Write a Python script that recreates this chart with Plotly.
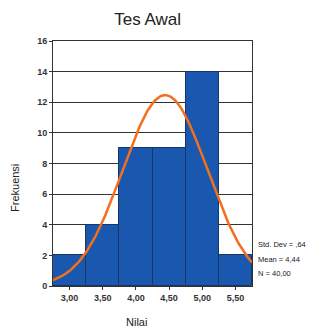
import numpy as np
import plotly.graph_objects as go

# Data
bin_centers = [3.00, 3.50, 4.00, 4.50, 5.00, 5.50]
frequencies = [2, 4, 9, 9, 14, 2]
x_tick_vals = [3.00, 3.50, 4.00, 4.50, 5.00, 5.50]
x_tick_text = ["3,00", "3,50", "4,00", "4,50", "5,00", "5,50"]
y_tick_vals = [0, 2, 4, 6, 8, 10, 12, 14, 16]
stat_mean = 4.44
stat_sd = 0.64
stat_n = 40
bin_width = 0.5
stat_labels = ["Std. Dev = ,64", "Mean = 4,44", "N = 40,00"]

# Normal curve scaled to histogram counts
xs = np.linspace(2.75, 5.75, 200)
ys = stat_n * bin_width / (stat_sd * np.sqrt(2 * np.pi)) * np.exp(-0.5 * ((xs - stat_mean) / stat_sd) ** 2)

fig = go.Figure()
fig.add_trace(go.Bar(
    x=bin_centers, y=frequencies, width=bin_width,
    marker=dict(color="#1a58b0", line=dict(color="#163766", width=1)),
    showlegend=False,
))
fig.add_trace(go.Scatter(
    x=xs, y=ys, mode="lines",
    line=dict(color="#f26f1e", width=2.5),
    showlegend=False,
))

font_family = "Liberation Sans, Arial, sans-serif"
fig.update_layout(
    width=321, height=332,
    margin=dict(l=53, r=69, t=41, b=46),
    plot_bgcolor="white", paper_bgcolor="white",
    bargap=0,
    font=dict(family=font_family, color="#222222"),
    title=dict(text="Tes Awal", x=0.46, xanchor="center", y=1 - 19 / 332, yanchor="middle",
               font=dict(size=17, family=font_family, color="#222222")),
    xaxis=dict(range=[2.75, 5.75], tickvals=x_tick_vals, ticktext=x_tick_text,
               showgrid=False, showline=True, linecolor="#333333", linewidth=1, mirror=True,
               ticks="outside", ticklen=3, tickcolor="#333333",
               tickfont=dict(size=9, color="#333333", weight="bold"), zeroline=False),
    yaxis=dict(range=[0, 16], tickvals=y_tick_vals,
               showgrid=True, gridcolor="#333333", gridwidth=1,
               showline=True, linecolor="#333333", linewidth=1, mirror=True,
               ticks="outside", ticklen=3, tickcolor="#333333",
               tickfont=dict(size=9, color="#333333", weight="bold"), zeroline=False),
)

annotations = [
    dict(text="Frekuensi", xref="paper", yref="paper", x=-0.191, y=0.4, textangle=-90,
         showarrow=False, font=dict(size=11, color="#222222"), xanchor="center", yanchor="middle"),
    dict(text="Nilai", xref="paper", yref="paper", x=0.422, y=-0.147,
         showarrow=False, font=dict(size=11, color="#222222"), xanchor="center", yanchor="middle"),
]
for lbl, yp in zip(stat_labels, [0.171, 0.110, 0.049]):
    annotations.append(dict(text=lbl, xref="paper", yref="paper", x=1.02, y=yp, showarrow=False,
                            xanchor="left", yanchor="middle", font=dict(size=7.5, color="#222222")))
fig.update_layout(annotations=annotations)

fig.write_html("out.html", config={"displayModeBar": False},
               post_script="document.body.style.margin='0';document.body.style.overflow='hidden';")
